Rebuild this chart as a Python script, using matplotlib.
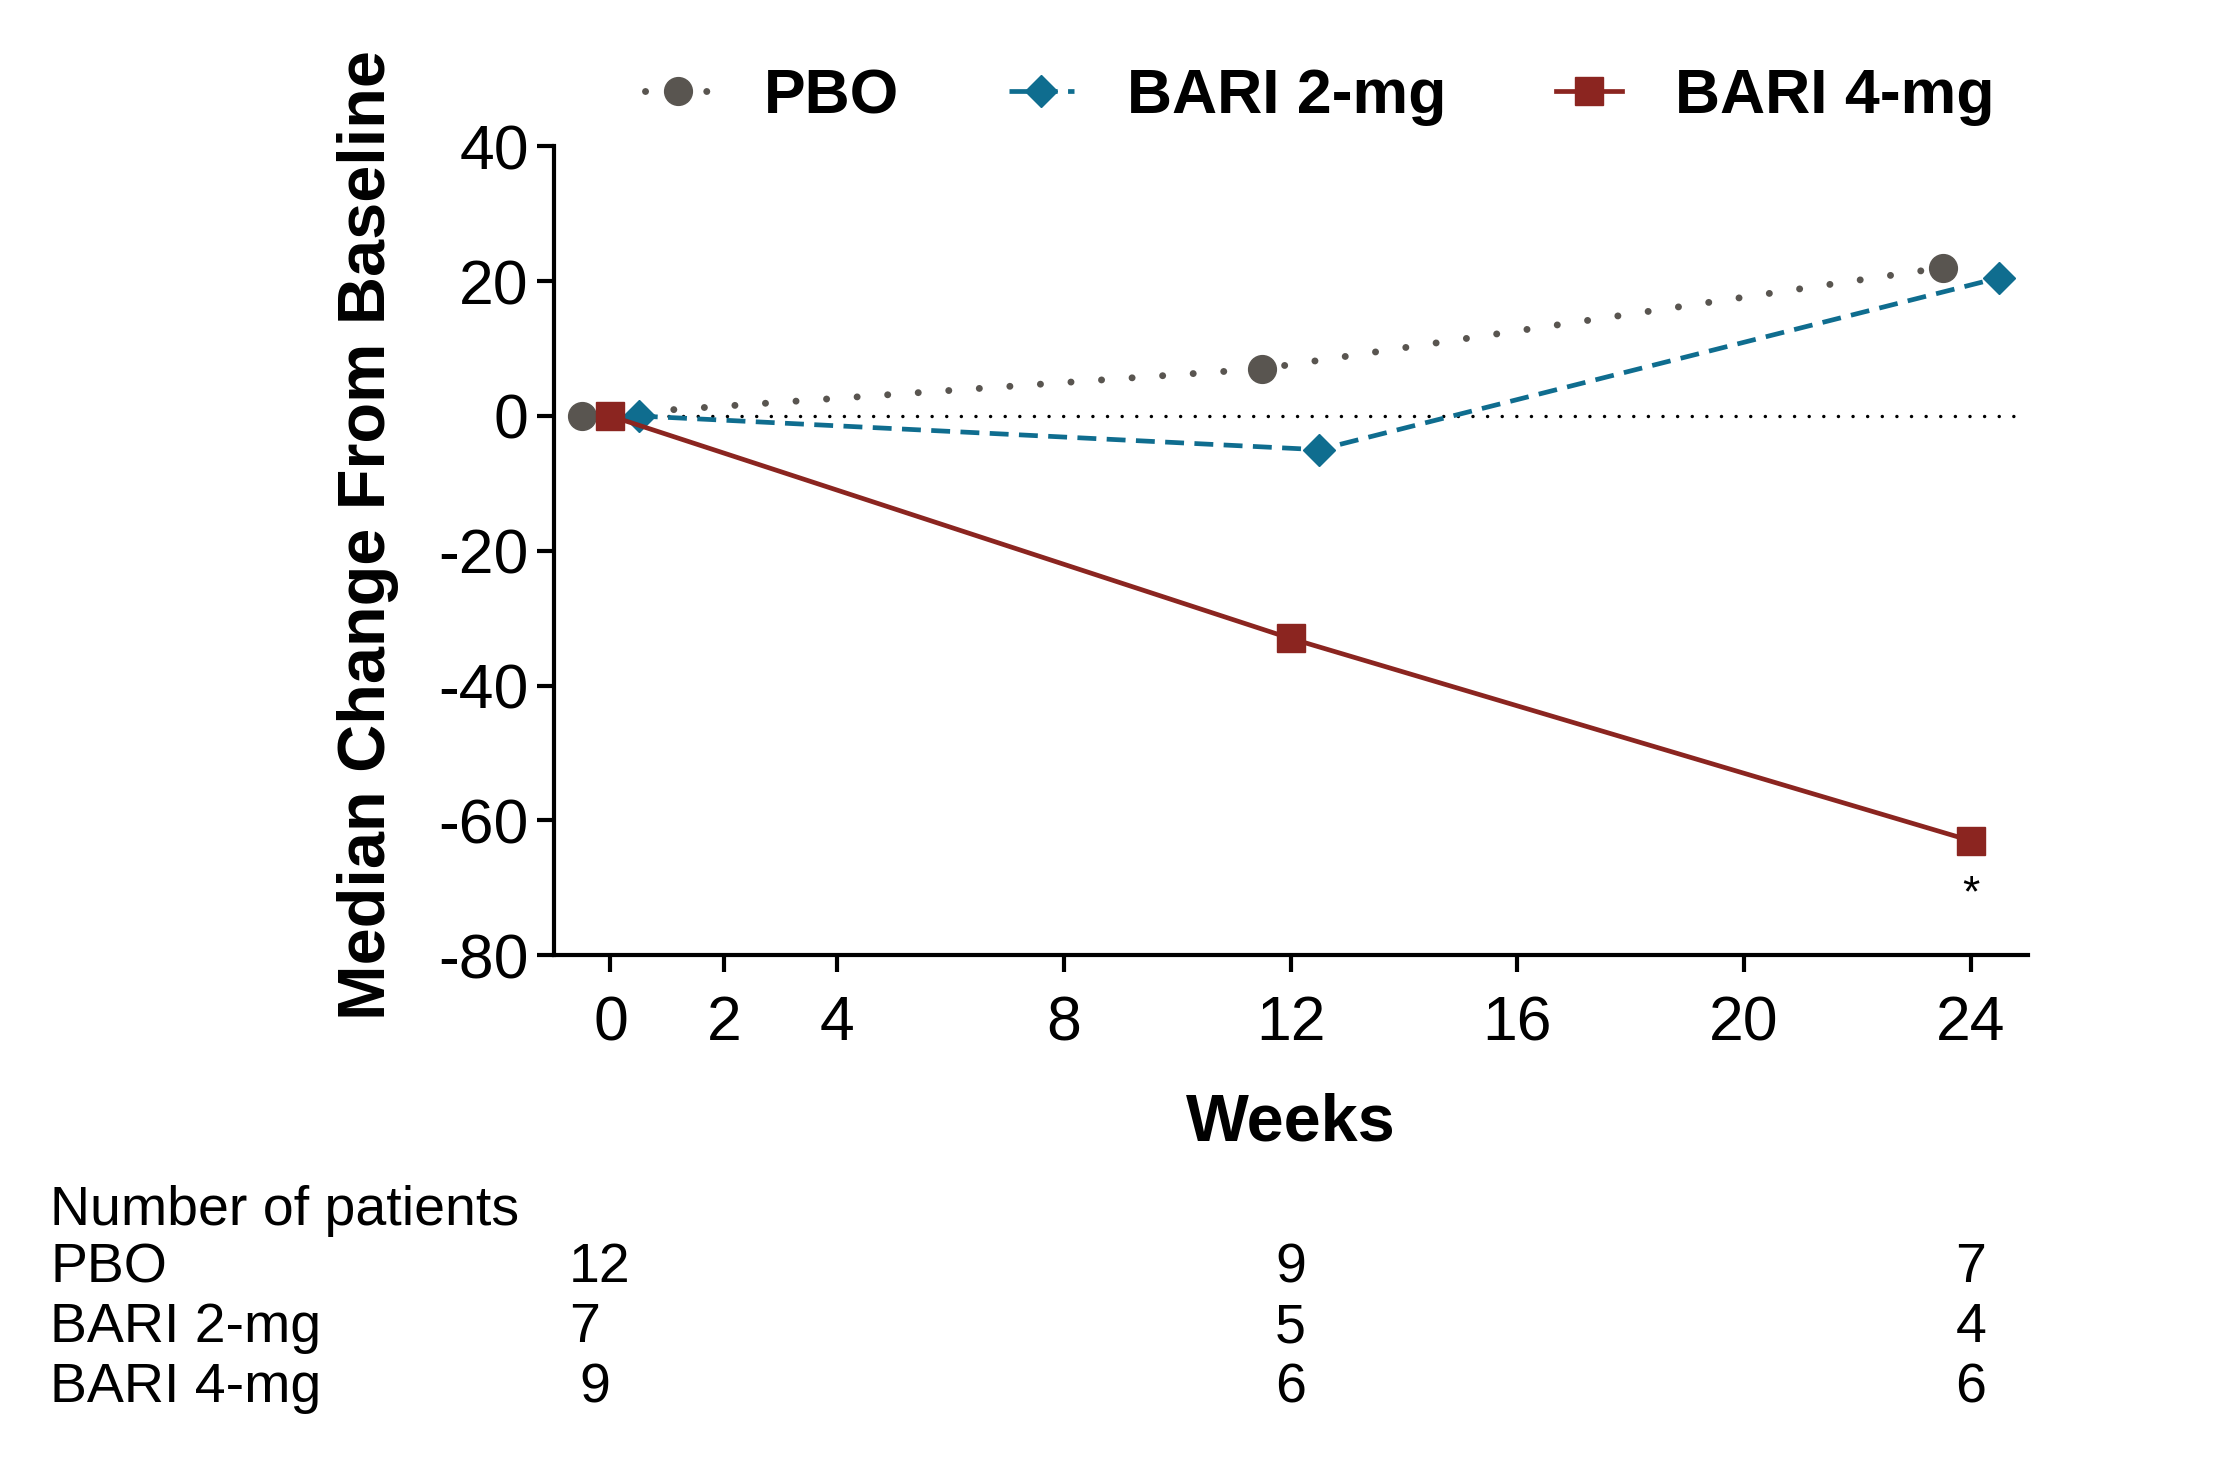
import numpy as np
import matplotlib
matplotlib.use("Agg")
import matplotlib.pyplot as plt
import matplotlib.transforms as mtransforms

plt.rcParams['font.family'] = ['Liberation Sans', 'DejaVu Sans']
plt.rcParams['axes.unicode_minus'] = False

# data (weeks are dodged slightly per group)
weeks = [0, 12, 24]
pbo_x = [-0.5, 11.5, 23.5]
pbo = [0, 7, 22]
bari2_x = [0.5, 12.5, 24.5]
bari2 = [0, -5, 20.5]
bari4_x = [0, 12, 24]
bari4 = [0, -33, -63]

xticks = [0, 2, 4, 8, 12, 16, 20, 24]
yticks = [-80, -60, -40, -20, 0, 20, 40]

groups = ['PBO', 'BARI 2-mg', 'BARI 4-mg']
n_pbo = [12, 9, 7]
n_bari2 = [7, 5, 4]
n_bari4 = [9, 6, 6]

fig = plt.figure(figsize=(22.33, 14.63), dpi=100)
ax = fig.add_axes([0.248, 0.347, 0.66, 0.553])

gray = '#595550'
teal = '#0f6d8f'
red = '#8b2520'

ax.plot([0, 24.8], [0, 0], color='black', lw=2.5,
        linestyle=(0, (0.01, 4.2)), dash_capstyle='round', zorder=1)

ax.plot(pbo_x, pbo, color=gray, lw=5, linestyle=(0, (0.01, 4.4)),
        dash_capstyle='round', marker='o', ms=20, label='PBO', zorder=3)
ax.plot(bari2_x, bari2, color=teal, lw=3.4, linestyle=(0, (4, 2.2)),
        marker='D', ms=16, label='BARI 2-mg', zorder=3)
ax.plot(bari4_x, bari4, color=red, lw=3.4, linestyle='-',
        marker='s', ms=20, label='BARI 4-mg', zorder=4)

ax.text(24, -71, '*', ha='center', va='center', fontsize=32)

ax.set_xlim(-1, 25)
ax.set_ylim(-80, 40)
ax.set_xticks(xticks)
ax.set_yticks(yticks)
ax.tick_params(axis='both', which='major', labelsize=45, width=3,
               length=12, direction='out')
ax.tick_params(axis='x', pad=16)
ax.tick_params(axis='y', pad=6)
for s in ['top', 'right']:
    ax.spines[s].set_visible(False)
for s in ['left', 'bottom']:
    ax.spines[s].set_linewidth(3)

ax.set_xlabel('Weeks', fontsize=48, fontweight='bold')
ax.xaxis.set_label_coords(0.5, -0.17)
ax.set_ylabel('Median Change From Baseline', fontsize=48, fontweight='bold')
ax.yaxis.set_label_coords(-0.105, 0.52)

fig.legend(loc='center', bbox_to_anchor=(0.591, 0.934), ncol=3,
           frameon=False, prop={'weight': 'bold', 'size': 45},
           handlelength=1.05, handletextpad=0.85, columnspacing=1.75)

# number at risk table
trans = mtransforms.blended_transform_factory(ax.transData, fig.transFigure)
fig.text(0.0224, 0.172, 'Number of patients', fontsize=40, va='center', ha='left')
row_y = [0.133, 0.092, 0.051]
counts = [n_pbo, n_bari2, n_bari4]
first_col = [-0.2, -0.45, -0.28]
for name, y, vals, x0 in zip(groups, row_y, counts, first_col):
    fig.text(0.0224, y, name, fontsize=40, va='center', ha='left')
    for wk, v in zip(weeks, vals):
        xx = x0 if wk == 0 else wk
        ax.text(xx, y, str(v), transform=trans, fontsize=40,
                va='center', ha='center')

fig.savefig('out.png', dpi=100)
